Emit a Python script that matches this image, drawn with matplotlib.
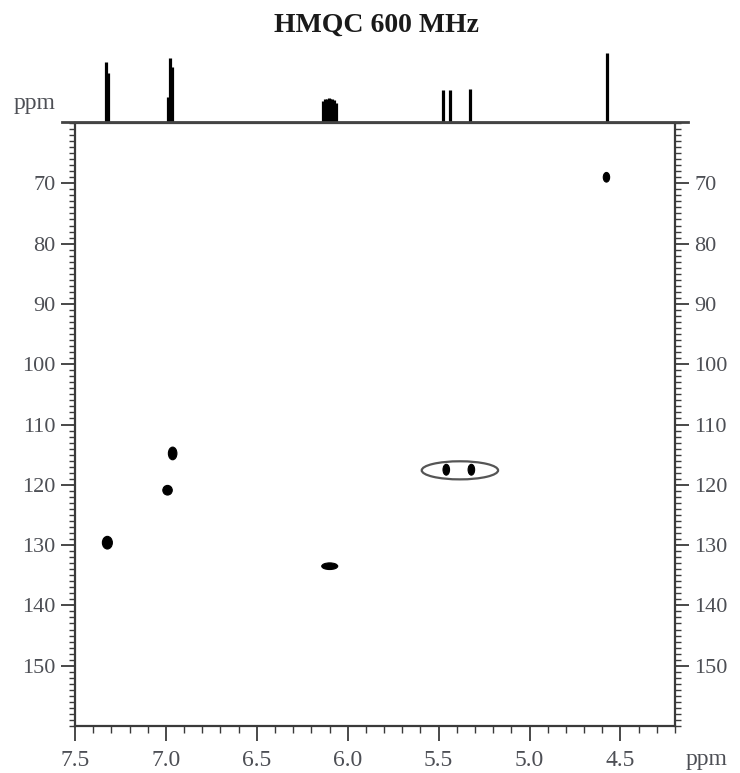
import matplotlib
matplotlib.use("Agg")
import matplotlib.pyplot as plt
from matplotlib.patches import Ellipse
from matplotlib.ticker import MultipleLocator

# 1D proton projection (ppm, relative height)
h1_ppm = [7.328, 7.320, 6.986, 6.975, 6.965,
          6.135, 6.125, 6.115, 6.105, 6.095, 6.085, 6.075, 6.065,
          5.476, 5.440, 5.326, 4.573]
h1_height = [87, 72, 36, 93, 80,
             30, 33, 34, 35, 34, 33, 32, 28,
             47, 46, 48, 100]

# 2D cross peaks (1H ppm, 13C ppm) and their apparent extent
cross_h = [7.322, 6.963, 6.991, 6.099, 5.458, 5.320, 4.577]
cross_c = [129.6, 114.8, 120.9, 133.5, 117.5, 117.5, 69.0]
cross_w = [0.055, 0.047, 0.052, 0.088, 0.036, 0.036, 0.035]
cross_hgt = [2.1, 2.1, 1.6, 1.1, 1.8, 1.8, 1.6]

# circled pair
ring_center = (5.383, 117.6)
ring_size = (0.42, 3.0)

x_ticks = [7.5, 7.0, 6.5, 6.0, 5.5, 5.0, 4.5]
y_ticks = [70, 80, 90, 100, 110, 120, 130, 140, 150]

serif = "Liberation Serif"
lab_col = "#4d4f55"
spine_col = "#3a3a3a"

fig = plt.figure(figsize=(7.4, 7.73), dpi=100)
W, H = 740, 773

def box(x0, y0, x1, y1):
    return [x0 / W, 1 - y1 / H, (x1 - x0) / W, (y1 - y0) / H]

ax = fig.add_axes(box(75, 123, 675, 726))
top = fig.add_axes(box(75, 50, 675, 122))

# main 2D panel
for x, y, w, h in zip(cross_h, cross_c, cross_w, cross_hgt):
    ax.add_patch(Ellipse((x, y), w, h, facecolor="black", edgecolor="black", lw=0.8))
ax.add_patch(Ellipse(ring_center, ring_size[0], ring_size[1], facecolor="none",
                     edgecolor="#555555", lw=1.6))

ax.set_xlim(7.5, 4.2)
ax.set_ylim(160, 60)
ax.set_xticks(x_ticks)
ax.set_xticklabels([f"{v:.1f}" for v in x_ticks])
ax.set_yticks(y_ticks)
ax.xaxis.set_minor_locator(MultipleLocator(0.1))
ax.yaxis.set_minor_locator(MultipleLocator(1))
ax.tick_params(axis="y", which="both", left=True, right=True, labelleft=True,
               labelright=True, direction="out", colors=spine_col, labelcolor=lab_col,
               labelsize=16, pad=4)
ax.tick_params(axis="y", which="major", length=10, width=1.3)
ax.tick_params(axis="y", which="minor", length=4, width=1.0)
ax.tick_params(axis="x", which="both", bottom=True, top=False, direction="out",
               colors=spine_col, labelcolor=lab_col, labelsize=17, pad=6)
ax.tick_params(axis="x", which="major", length=11, width=1.3)
ax.tick_params(axis="x", which="minor", length=5, width=1.0)
for lbl in ax.get_xticklabels() + ax.get_yticklabels():
    lbl.set_family(serif)
for s in ax.spines.values():
    s.set_color(spine_col)
    s.set_linewidth(1.6)

fig.text(686 / W, 1 - 759 / H, "ppm", family=serif, fontsize=17, color=lab_col,
         ha="left", va="center")

# 1D projection on top
top.vlines(h1_ppm, 0, h1_height, color="black", lw=2.3)
top.plot([7.57, 4.13], [0, 0], color="#444444", lw=2.0, clip_on=False)
top.set_xlim(7.5, 4.2)
top.set_ylim(0, 105)
top.axis("off")
fig.text(35 / W, 1 - 104 / H, "ppm", family=serif, fontsize=17, color=lab_col,
         ha="center", va="center")

fig.text(376 / W, 1 - 25 / H, "HMQC 600 MHz", family=serif, fontsize=20,
         fontweight="bold", color="#1a1a1a", ha="center", va="center")

fig.savefig("out.png", dpi=100, facecolor="white")
